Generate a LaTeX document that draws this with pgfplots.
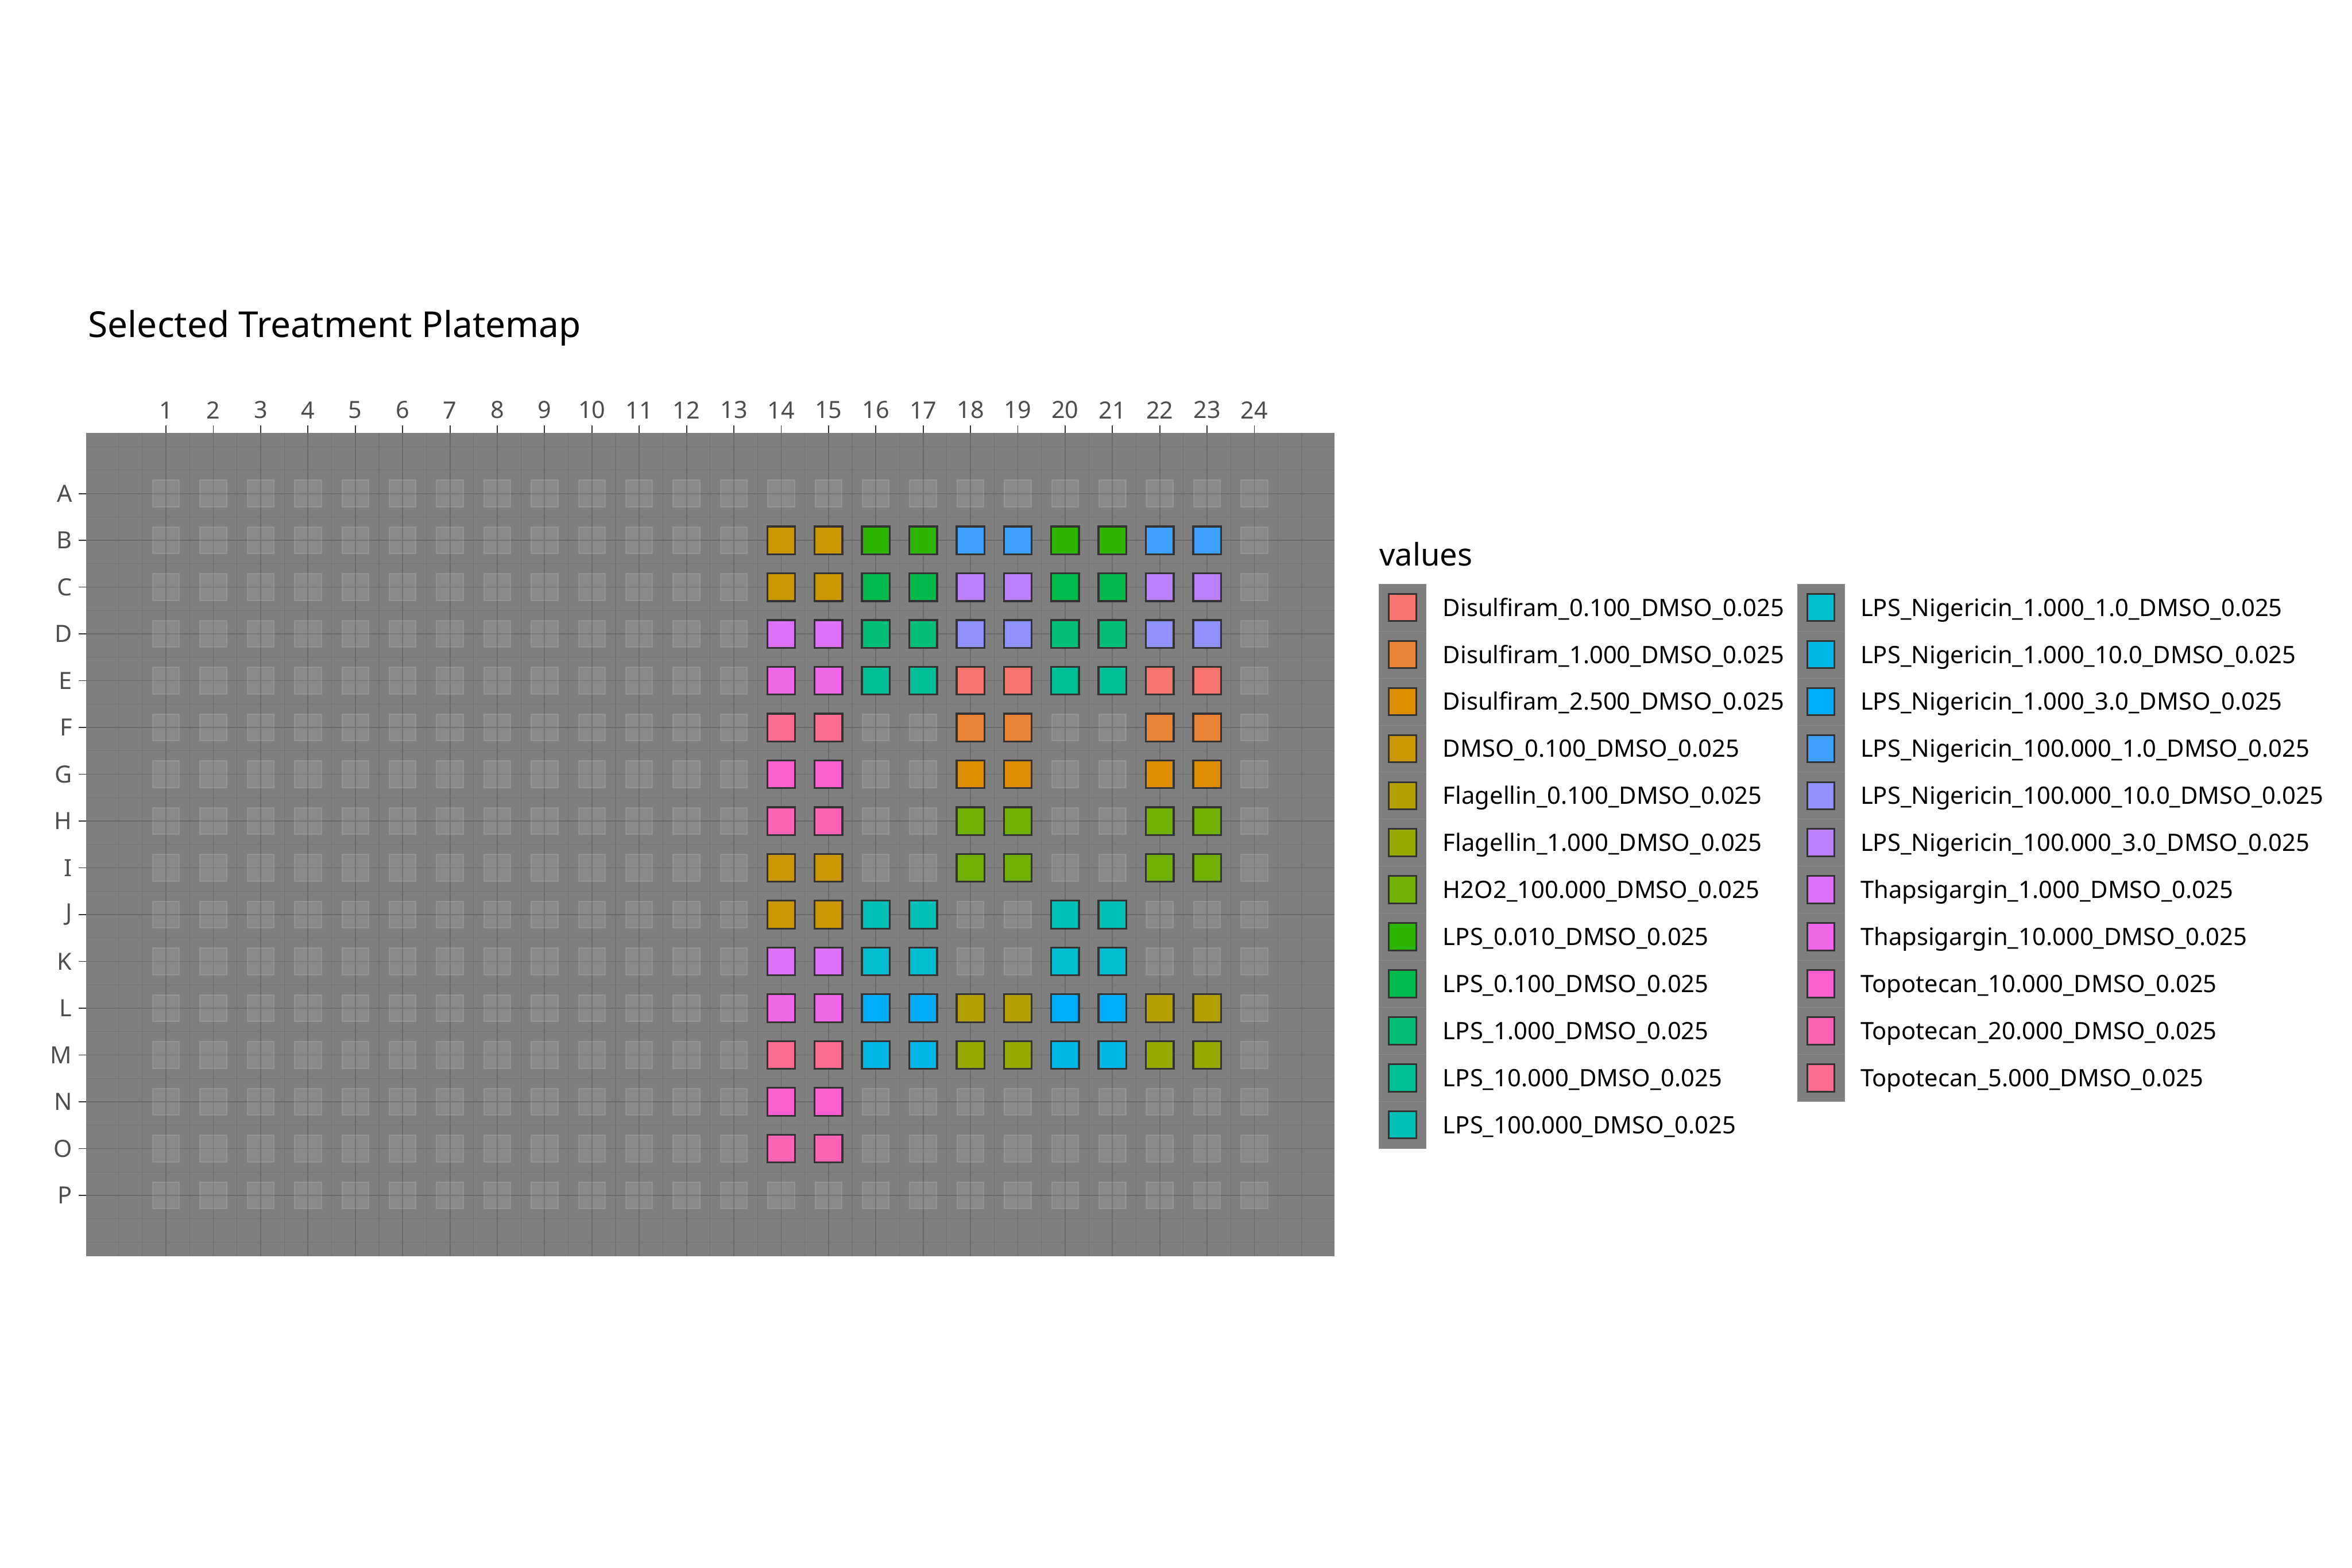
\documentclass[border=0pt]{standalone}
\usepackage{pgfplots}
\pgfplotsset{compat=1.18}
\usepackage{fontspec}
\setmainfont{Noto Sans}
\definecolor{panel}{HTML}{7F7F7F}
\definecolor{majg}{HTML}{6B6B6B}
\definecolor{ming}{HTML}{737373}
\definecolor{tickc}{HTML}{333333}
\definecolor{ticklab}{HTML}{4D4D4D}
\definecolor{wellb}{HTML}{333333}
\definecolor{keyline}{HTML}{8C8C8C}
\definecolor{c1}{HTML}{F8766D}
\definecolor{c2}{HTML}{EB8335}
\definecolor{c3}{HTML}{DC8D00}
\definecolor{c4}{HTML}{CA9700}
\definecolor{c5}{HTML}{B3A000}
\definecolor{c6}{HTML}{96A900}
\definecolor{c7}{HTML}{71B000}
\definecolor{c8}{HTML}{2DB600}
\definecolor{c9}{HTML}{00BA4A}
\definecolor{c10}{HTML}{00BE75}
\definecolor{c11}{HTML}{00C098}
\definecolor{c12}{HTML}{00C0B7}
\definecolor{c13}{HTML}{00BDD1}
\definecolor{c14}{HTML}{00B8E7}
\definecolor{c15}{HTML}{00ADFA}
\definecolor{c16}{HTML}{3FA1FF}
\definecolor{c17}{HTML}{8F91FF}
\definecolor{c18}{HTML}{BC81FF}
\definecolor{c19}{HTML}{DD71FA}
\definecolor{c20}{HTML}{F166E8}
\definecolor{c21}{HTML}{FE61CF}
\definecolor{c22}{HTML}{FF63B3}
\definecolor{c23}{HTML}{FF6C91}
\newcommand\legfont{\fontsize{11.0}{13}\selectfont}
\newcommand\tickfont{\fontsize{10.9}{13}\selectfont}
\pgfplotsset{
  well/.style={only marks, mark=square*, mark size=6.39pt,
    mark options={fill=#1, draw=wellb, line width=0.9pt}},
  key/.style={only marks, mark=square*, mark size=6.26pt,
    mark options={fill=#1, draw=wellb, line width=0.8pt}},
}
\begin{document}
\begin{tikzpicture}
\useasboundingbox (0,0) rectangle (1080pt,720pt);
\begin{axis}[
  at={(39.51pt,143.1pt)}, anchor=south west,
  scale only axis, width=573.21pt, height=378.18pt,
  xmin=-0.69, xmax=25.69, ymin=-0.30, ymax=17.30,
  enlargelimits=false,
  axis background/.style={fill=panel},
  axis line style={draw=none},
  xtick={1,2,3,4,5,6,7,8,9,10,11,12,13,14,15,16,17,18,19,20,21,22,23,24},
  xticklabels={1,2,3,4,5,6,7,8,9,10,11,12,13,14,15,16,17,18,19,20,21,22,23,24},
  ytick={1,2,3,4,5,6,7,8,9,10,11,12,13,14,15,16},
  yticklabels={P,O,N,M,L,K,J,I,H,G,F,E,D,C,B,A},
  xtick pos=right, xticklabel pos=right, ytick pos=left,
  tick align=outside, major tick length=3.42pt,
  major tick style={draw=tickc, line width=0.49pt},
  minor tick length=0pt,
  minor xtick={0,0.5,1.5,2.5,3.5,4.5,5.5,6.5,7.5,8.5,9.5,10.5,11.5,12.5,13.5,14.5,15.5,16.5,17.5,18.5,19.5,20.5,21.5,22.5,23.5,24.5,25},
  minor ytick={0,0.5,1.5,2.5,3.5,4.5,5.5,6.5,7.5,8.5,9.5,10.5,11.5,12.5,13.5,14.5,15.5,16.5,17},
  xmajorgrids, ymajorgrids, xminorgrids, yminorgrids,
  major grid style={draw=majg, line width=0.49pt},
  minor grid style={draw=ming, line width=0.3pt},
  tick label style={font=\tickfont, text=ticklab, inner sep=2.8pt},
  /pgf/number format/assume math mode=true,
]
% empty wells
\addplot[only marks, mark=square*, mark size=6.12pt,
  mark options={fill=white, fill opacity=0.08, draw=white, draw opacity=0.12, line width=0.54pt}]
coordinates {
(1,16)(2,16)(3,16)(4,16)(5,16)(6,16)(7,16)(8,16)(9,16)(10,16)(11,16)(12,16)(13,16)(14,16)(15,16)(16,16)(17,16)(18,16)(19,16)(20,16)(21,16)(22,16)(23,16)(24,16)
(1,15)(2,15)(3,15)(4,15)(5,15)(6,15)(7,15)(8,15)(9,15)(10,15)(11,15)(12,15)(13,15)(14,15)(15,15)(16,15)(17,15)(18,15)(19,15)(20,15)(21,15)(22,15)(23,15)(24,15)
(1,14)(2,14)(3,14)(4,14)(5,14)(6,14)(7,14)(8,14)(9,14)(10,14)(11,14)(12,14)(13,14)(14,14)(15,14)(16,14)(17,14)(18,14)(19,14)(20,14)(21,14)(22,14)(23,14)(24,14)
(1,13)(2,13)(3,13)(4,13)(5,13)(6,13)(7,13)(8,13)(9,13)(10,13)(11,13)(12,13)(13,13)(14,13)(15,13)(16,13)(17,13)(18,13)(19,13)(20,13)(21,13)(22,13)(23,13)(24,13)
(1,12)(2,12)(3,12)(4,12)(5,12)(6,12)(7,12)(8,12)(9,12)(10,12)(11,12)(12,12)(13,12)(14,12)(15,12)(16,12)(17,12)(18,12)(19,12)(20,12)(21,12)(22,12)(23,12)(24,12)
(1,11)(2,11)(3,11)(4,11)(5,11)(6,11)(7,11)(8,11)(9,11)(10,11)(11,11)(12,11)(13,11)(14,11)(15,11)(16,11)(17,11)(18,11)(19,11)(20,11)(21,11)(22,11)(23,11)(24,11)
(1,10)(2,10)(3,10)(4,10)(5,10)(6,10)(7,10)(8,10)(9,10)(10,10)(11,10)(12,10)(13,10)(14,10)(15,10)(16,10)(17,10)(18,10)(19,10)(20,10)(21,10)(22,10)(23,10)(24,10)
(1,9)(2,9)(3,9)(4,9)(5,9)(6,9)(7,9)(8,9)(9,9)(10,9)(11,9)(12,9)(13,9)(14,9)(15,9)(16,9)(17,9)(18,9)(19,9)(20,9)(21,9)(22,9)(23,9)(24,9)
(1,8)(2,8)(3,8)(4,8)(5,8)(6,8)(7,8)(8,8)(9,8)(10,8)(11,8)(12,8)(13,8)(14,8)(15,8)(16,8)(17,8)(18,8)(19,8)(20,8)(21,8)(22,8)(23,8)(24,8)
(1,7)(2,7)(3,7)(4,7)(5,7)(6,7)(7,7)(8,7)(9,7)(10,7)(11,7)(12,7)(13,7)(14,7)(15,7)(16,7)(17,7)(18,7)(19,7)(20,7)(21,7)(22,7)(23,7)(24,7)
(1,6)(2,6)(3,6)(4,6)(5,6)(6,6)(7,6)(8,6)(9,6)(10,6)(11,6)(12,6)(13,6)(14,6)(15,6)(16,6)(17,6)(18,6)(19,6)(20,6)(21,6)(22,6)(23,6)(24,6)
(1,5)(2,5)(3,5)(4,5)(5,5)(6,5)(7,5)(8,5)(9,5)(10,5)(11,5)(12,5)(13,5)(14,5)(15,5)(16,5)(17,5)(18,5)(19,5)(20,5)(21,5)(22,5)(23,5)(24,5)
(1,4)(2,4)(3,4)(4,4)(5,4)(6,4)(7,4)(8,4)(9,4)(10,4)(11,4)(12,4)(13,4)(14,4)(15,4)(16,4)(17,4)(18,4)(19,4)(20,4)(21,4)(22,4)(23,4)(24,4)
(1,3)(2,3)(3,3)(4,3)(5,3)(6,3)(7,3)(8,3)(9,3)(10,3)(11,3)(12,3)(13,3)(14,3)(15,3)(16,3)(17,3)(18,3)(19,3)(20,3)(21,3)(22,3)(23,3)(24,3)
(1,2)(2,2)(3,2)(4,2)(5,2)(6,2)(7,2)(8,2)(9,2)(10,2)(11,2)(12,2)(13,2)(14,2)(15,2)(16,2)(17,2)(18,2)(19,2)(20,2)(21,2)(22,2)(23,2)(24,2)
(1,1)(2,1)(3,1)(4,1)(5,1)(6,1)(7,1)(8,1)(9,1)(10,1)(11,1)(12,1)(13,1)(14,1)(15,1)(16,1)(17,1)(18,1)(19,1)(20,1)(21,1)(22,1)(23,1)(24,1)
};
% treated wells (y: A=16 ... P=1)
\addplot[well=c1] coordinates {(18,12)(19,12)(22,12)(23,12)};
\addplot[well=c2] coordinates {(18,11)(19,11)(22,11)(23,11)};
\addplot[well=c3] coordinates {(18,10)(19,10)(22,10)(23,10)};
\addplot[well=c4] coordinates {(14,15)(15,15)(14,14)(15,14)(14,8)(15,8)(14,7)(15,7)};
\addplot[well=c5] coordinates {(18,5)(19,5)(22,5)(23,5)};
\addplot[well=c6] coordinates {(18,4)(19,4)(22,4)(23,4)};
\addplot[well=c7] coordinates {(18,9)(19,9)(22,9)(23,9)(18,8)(19,8)(22,8)(23,8)};
\addplot[well=c8] coordinates {(16,15)(17,15)(20,15)(21,15)};
\addplot[well=c9] coordinates {(16,14)(17,14)(20,14)(21,14)};
\addplot[well=c10] coordinates {(16,13)(17,13)(20,13)(21,13)};
\addplot[well=c11] coordinates {(16,12)(17,12)(20,12)(21,12)};
\addplot[well=c12] coordinates {(16,7)(17,7)(20,7)(21,7)};
\addplot[well=c13] coordinates {(16,6)(17,6)(20,6)(21,6)};
\addplot[well=c14] coordinates {(16,4)(17,4)(20,4)(21,4)};
\addplot[well=c15] coordinates {(16,5)(17,5)(20,5)(21,5)};
\addplot[well=c16] coordinates {(18,15)(19,15)(22,15)(23,15)};
\addplot[well=c17] coordinates {(18,13)(19,13)(22,13)(23,13)};
\addplot[well=c18] coordinates {(18,14)(19,14)(22,14)(23,14)};
\addplot[well=c19] coordinates {(14,13)(15,13)(14,6)(15,6)};
\addplot[well=c20] coordinates {(14,12)(15,12)(14,5)(15,5)};
\addplot[well=c21] coordinates {(14,10)(15,10)(14,3)(15,3)};
\addplot[well=c22] coordinates {(14,9)(15,9)(14,2)(15,2)};
\addplot[well=c23] coordinates {(14,11)(15,11)(14,4)(15,4)};
\end{axis}
% legend, in a page-sized axis whose units are reference pixels
\begin{axis}[
  at={(0pt,0pt)}, anchor=south west,
  x=0.18pt, y=0.18pt, xmin=0, xmax=6000, ymin=0, ymax=4000,
  hide axis, clip=false, enlargelimits=false,
]
\addplot[only marks, mark=square*, mark size=10.8pt,
  mark options={fill=panel, draw=keyline, line width=0.2pt}]
coordinates {
(3578,2450)(3578,2330)(3578,2210)(3578,2090)(3578,1970)(3578,1850)(3578,1730)(3578,1610)(3578,1490)(3578,1370)(3578,1250)(3578,1130)
(4645,2450)(4645,2330)(4645,2210)(4645,2090)(4645,1970)(4645,1850)(4645,1730)(4645,1610)(4645,1490)(4645,1370)(4645,1250)
};
\addplot[key=c1] coordinates {(3578,2450)};
\addplot[key=c2] coordinates {(3578,2330)};
\addplot[key=c3] coordinates {(3578,2210)};
\addplot[key=c4] coordinates {(3578,2090)};
\addplot[key=c5] coordinates {(3578,1970)};
\addplot[key=c6] coordinates {(3578,1850)};
\addplot[key=c7] coordinates {(3578,1730)};
\addplot[key=c8] coordinates {(3578,1610)};
\addplot[key=c9] coordinates {(3578,1490)};
\addplot[key=c10] coordinates {(3578,1370)};
\addplot[key=c11] coordinates {(3578,1250)};
\addplot[key=c12] coordinates {(3578,1130)};
\addplot[key=c13] coordinates {(4645,2450)};
\addplot[key=c14] coordinates {(4645,2330)};
\addplot[key=c15] coordinates {(4645,2210)};
\addplot[key=c16] coordinates {(4645,2090)};
\addplot[key=c17] coordinates {(4645,1970)};
\addplot[key=c18] coordinates {(4645,1850)};
\addplot[key=c19] coordinates {(4645,1730)};
\addplot[key=c20] coordinates {(4645,1610)};
\addplot[key=c21] coordinates {(4645,1490)};
\addplot[key=c22] coordinates {(4645,1370)};
\addplot[key=c23] coordinates {(4645,1250)};
\begin{scope}[every node/.style={anchor=base west, inner sep=0pt, font=\legfont}]
\node at (axis cs:3680,2428) {Disulfiram\_0.100\_DMSO\_0.025};
\node at (axis cs:3680,2308) {Disulfiram\_1.000\_DMSO\_0.025};
\node at (axis cs:3680,2188) {Disulfiram\_2.500\_DMSO\_0.025};
\node at (axis cs:3680,2068) {DMSO\_0.100\_DMSO\_0.025};
\node at (axis cs:3680,1948) {Flagellin\_0.100\_DMSO\_0.025};
\node at (axis cs:3680,1828) {Flagellin\_1.000\_DMSO\_0.025};
\node at (axis cs:3680,1708) {H2O2\_100.000\_DMSO\_0.025};
\node at (axis cs:3680,1588) {LPS\_0.010\_DMSO\_0.025};
\node at (axis cs:3680,1468) {LPS\_0.100\_DMSO\_0.025};
\node at (axis cs:3680,1348) {LPS\_1.000\_DMSO\_0.025};
\node at (axis cs:3680,1228) {LPS\_10.000\_DMSO\_0.025};
\node at (axis cs:3680,1108) {LPS\_100.000\_DMSO\_0.025};
\node at (axis cs:4745,2428) {LPS\_Nigericin\_1.000\_1.0\_DMSO\_0.025};
\node at (axis cs:4745,2308) {LPS\_Nigericin\_1.000\_10.0\_DMSO\_0.025};
\node at (axis cs:4745,2188) {LPS\_Nigericin\_1.000\_3.0\_DMSO\_0.025};
\node at (axis cs:4745,2068) {LPS\_Nigericin\_100.000\_1.0\_DMSO\_0.025};
\node at (axis cs:4745,1948) {LPS\_Nigericin\_100.000\_10.0\_DMSO\_0.025};
\node at (axis cs:4745,1828) {LPS\_Nigericin\_100.000\_3.0\_DMSO\_0.025};
\node at (axis cs:4745,1708) {Thapsigargin\_1.000\_DMSO\_0.025};
\node at (axis cs:4745,1588) {Thapsigargin\_10.000\_DMSO\_0.025};
\node at (axis cs:4745,1468) {Topotecan\_10.000\_DMSO\_0.025};
\node at (axis cs:4745,1348) {Topotecan\_20.000\_DMSO\_0.025};
\node at (axis cs:4745,1228) {Topotecan\_5.000\_DMSO\_0.025};
\node[font=\fontsize{14.3}{17}\selectfont] at (axis cs:3518,2557) {values};
\node[font=\fontsize{16.4}{19}\selectfont] at (axis cs:224,3140) {Selected Treatment Platemap};
\end{scope}
\end{axis}
\end{tikzpicture}
\end{document}
